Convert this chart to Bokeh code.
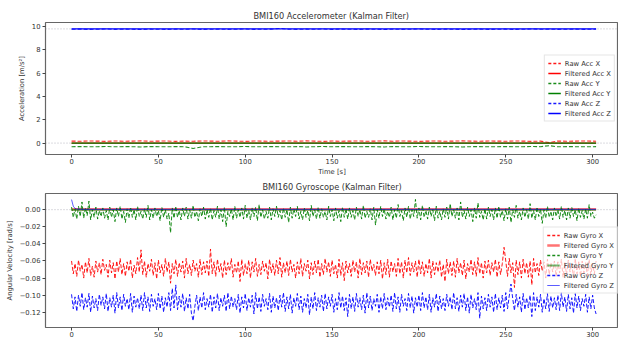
from bokeh.plotting import figure
from bokeh.layouts import column
from bokeh.models import (Span, Legend, LegendItem, CustomJSTickFormatter,
                          FixedTicker, Range1d)
from bokeh.embed import file_html
from bokeh.resources import INLINE

FONT = "DejaVu Sans"
TXT = "#333333"

# ---------------- data ----------------
x_ticks = [0, 50, 100, 150, 200, 250, 300]
acc_ticks = [0, 2, 4, 6, 8, 10]
gyro_ticks = [-0.12, -0.10, -0.08, -0.06, -0.04, -0.02, 0.0]

acc_time = [0, 5, 10, 15, 20, 25, 30, 35, 40, 45, 50, 55, 60, 65, 70, 75, 80, 85, 90, 95,
            100, 105, 110, 115, 120, 125, 130, 135, 140, 145, 150, 155, 160, 165, 170, 175,
            180, 185, 190, 195, 200, 205, 210, 215, 220, 225, 230, 235, 240, 245, 250, 255,
            260, 265, 270, 275, 280, 285, 290, 295, 300, 302]
raw_acc_x = [0.17, 0.16, 0.18, 0.17, 0.15, 0.18, 0.16, 0.17, 0.19, 0.16,
             0.17, 0.18, 0.15, 0.17, 0.16, 0.18, 0.17, 0.16, 0.19, 0.17,
             0.15, 0.18, 0.17, 0.16, 0.17, 0.18, 0.16, 0.19, 0.17, 0.15,
             0.18, 0.16, 0.17, 0.18, 0.16, 0.17, 0.19, 0.16, 0.18, 0.17,
             0.15, 0.17, 0.18, 0.16, 0.17, 0.19, 0.17, 0.16, 0.18, 0.17,
             0.16, 0.18, 0.17, 0.15, 0.17, 0.04, 0.18, 0.16, 0.17, 0.18,
             0.17, 0.16]
raw_acc_y = [-0.31, -0.30, -0.32, -0.31, -0.29, -0.32, -0.30, -0.31, -0.33, -0.30,
             -0.31, -0.32, -0.30, -0.31, -0.46, -0.32, -0.31, -0.30, -0.32, -0.31,
             -0.29, -0.32, -0.31, -0.30, -0.31, -0.32, -0.30, -0.33, -0.31, -0.29,
             -0.32, -0.30, -0.31, -0.32, -0.30, -0.31, -0.33, -0.30, -0.32, -0.31,
             -0.29, -0.31, -0.32, -0.30, -0.31, -0.33, -0.31, -0.30, -0.32, -0.31,
             -0.30, -0.32, -0.31, -0.29, -0.31, -0.22, -0.32, -0.30, -0.31, -0.32,
             -0.31, -0.30]
raw_acc_z = [9.78, 9.79, 9.77, 9.78, 9.80, 9.77, 9.79, 9.78, 9.76, 9.79,
             9.78, 9.77, 9.79, 9.78, 9.80, 9.77, 9.78, 9.79, 9.77, 9.78,
             9.80, 9.77, 9.78, 9.79, 9.85, 9.78, 9.77, 9.79, 9.78, 9.80,
             9.77, 9.79, 9.78, 9.77, 9.79, 9.78, 9.76, 9.79, 9.77, 9.78,
             9.80, 9.78, 9.77, 9.79, 9.78, 9.76, 9.78, 9.79, 9.77, 9.78,
             9.79, 9.77, 9.78, 9.80, 9.78, 9.79, 9.77, 9.78, 9.79, 9.77,
             9.78, 9.79]
filt_acc_time = [0, 302]
filt_acc_x = [0.0, 0.0]
filt_acc_y = [0.0, 0.0]
filt_acc_z = [9.81, 9.81]

# gyroscope raw values, mrad/s, one per second (0..302 s)
raw_gyro_x_mrad = [
    -60, -75, -63, -78, -59, -72, -64, -80, -61, -74, -57, -77, -66, -79, -60, -73, -62, -76, -58, -71,
    -64, -79, -59, -74, -62, -81, -60, -73, -57, -76, -63, -78, -61, -72, -58, -80, -65, -75, -56, -73,
    -47, -76, -60, -79, -63, -72, -58, -77, -62, -81, -59, -74, -64, -78, -57, -73, -61, -86, -63, -75,
    -58, -78, -62, -73, -60, -80, -57, -75, -64, -77, -59, -72, -63, -79, -58, -76, -61, -74, -60, -78,
    -46, -75, -61, -78, -58, -73, -63, -80, -59, -76, -62, -72, -57, -79, -64, -74, -60, -84, -58, -77,
    -63, -75, -59, -80, -61, -73, -57, -78, -64, -76, -60, -72, -62, -81, -58, -74, -63, -77, -59, -75,
    -56, -79, -62, -74, -60, -77, -58, -73, -64, -80, -61, -75, -57, -78, -63, -72, -59, -81, -62, -76,
    -60, -74, -58, -79, -63, -76, -57, -73, -61, -78, -59, -75, -64, -80, -58, -77, -62, -83, -60, -74,
    -63, -78, -59, -73, -61, -80, -57, -76, -62, -74, -60, -79, -58, -72, -64, -77, -61, -75, -59, -81,
    -62, -76, -58, -79, -60, -73, -63, -78, -57, -75, -61, -80, -59, -74, -56, -77, -62, -73, -60, -79,
    -58, -75, -61, -78, -63, -74, -57, -80, -60, -76, -62, -73, -59, -79, -64, -84, -58, -75, -61, -77,
    -60, -79, -57, -74, -62, -77, -59, -81, -63, -73, -58, -76, -61, -78, -56, -75, -62, -80, -60, -74,
    -59, -77, -62, -73, -58, -79, -61, -76, -63, -44, -60, -78, -57, -74, -62, -91, -59, -76, -61, -80,
    -58, -75, -62, -79, -60, -88, -57, -74, -63, -77, -59, -72, -61, -80, -58, -76, -62, -73, -60, -78,
    -61, -74, -58, -79, -62, -76, -59, -73, -63, -80, -57, -75, -61, -78, -60, -74, -62, -77, -58, -76,
    -63, -75, -60]
raw_gyro_y_mrad = [
    3, -9, 1, -11, 4, -8, 9, -10, 2, -7, 10, -12, 0, -9, 3, -11, -1, -8, 2, -10,
    -1, -12, 3, -9, 0, -14, 2, -8, 4, -11, -2, -15, 1, -10, 3, -9, 0, -12, 4, -8,
    -2, -11, 1, -9, 5, -12, 0, -10, 2, -8, -1, -13, 3, -9, 0, -11, -4, -27, 2, -10,
    4, -9, -1, -12, 2, -8, 3, -11, 0, -10, 5, -9, -2, -13, 1, -8, 3, -11, 0, -9,
    2, -12, -1, -9, 4, -11, 0, -14, 3, -20, -2, -8, 1, -12, 4, -10, 0, -9, 2, -11,
    5, -10, -1, -12, 2, -8, 3, -13, 6, -9, 0, -11, -2, -10, 3, -12, 1, -8, 4, -9,
    -1, -12, 2, -9, 0, -15, 3, -10, 1, -8, 4, -11, -2, -12, 2, -9, -1, -13, 5, -8,
    0, -11, 3, -10, 1, -9, -2, -12, 4, -8, 0, -13, 2, -10, -1, -14, 3, -9, 1, -11,
    2, -9, -1, -12, 3, -8, 0, -11, 5, -10, -2, -9, 1, -12, 3, -18, 0, -10, 4, -8,
    1, -11, -2, -9, 3, -12, 0, -10, 6, -8, -1, -13, 2, -9, 4, -11, 0, -8, 12, -10,
    2, -12, 5, -9, -1, -11, 3, -8, 0, -13, 4, -10, -2, -12, 1, -9, 3, -11, 7, -8,
    0, -10, 2, -12, 9, -9, -1, -11, 3, -8, 0, -14, 2, -10, 8, -9, -2, -12, 1, -11,
    3, -8, 0, -12, 2, -10, 4, -9, -1, -13, 1, -11, 3, -15, 0, -9, 5, -10, -2, -12,
    2, -9, 0, -11, 7, -10, -1, -12, 3, -8, 1, -16, 0, -10, 4, -9, -2, -12, 2, -8,
    0, -11, 4, -9, -1, -12, 2, -10, 3, -8, 0, -13, 2, -9, -1, -11, 1, -10, 6, -8,
    -3, -10, -6]
raw_gyro_z_mrad = [
    -99, -116, -102, -119, -100, -113, -97, -117, -103, -114, -98, -120, -101, -115, -104, -118, -99, -112, -102, -116,
    -98, -119, -103, -114, -100, -121, -97, -115, -102, -118, -99, -113, -104, -117, -98, -120, -101, -114, -103, -116,
    -100, -118, -97, -115, -102, -119, -99, -113, -104, -117, -98, -116, -101, -120, -103, -114, -97, -118, -92, -115,
    -88, -117, -101, -114, -98, -119, -103, -116, -99, -121, -130, -113, -100, -118, -102, -115, -97, -117, -104, -114,
    -99, -120, -102, -115, -98, -118, -103, -113, -100, -119, -97, -116, -101, -114, -104, -117, -99, -121, -102, -115,
    -98, -118, -103, -114, -100, -122, -97, -116, -102, -119, -99, -113, -104, -117, -98, -120, -101, -115, -103, -118,
    -100, -114, -97, -119, -102, -116, -99, -121, -103, -113, -98, -117, -101, -120, -104, -115, -99, -123, -102, -116,
    -97, -118, -103, -114, -100, -119, -98, -116, -102, -113, -99, -120, -104, -117, -97, -115, -101, -118, -103, -125,
    -99, -116, -102, -119, -98, -114, -103, -117, -100, -121, -97, -115, -101, -118, -104, -113, -99, -120, -102, -116,
    -98, -117, -103, -114, -100, -119, -97, -116, -102, -120, -99, -113, -104, -118, -98, -115, -101, -121, -103, -114,
    -100, -118, -97, -115, -102, -117, -99, -120, -103, -114, -98, -119, -101, -116, -104, -118, -99, -113, -102, -117,
    -97, -116, -103, -119, -100, -114, -98, -118, -102, -121, -99, -115, -104, -117, -97, -127, -101, -116, -103, -118,
    -99, -114, -102, -120, -98, -117, -103, -115, -100, -119, -97, -116, -101, -87, -104, -118, -99, -114, -102, -120,
    -98, -117, -103, -115, -100, -125, -97, -118, -102, -114, -99, -120, -104, -116, -98, -119, -101, -115, -103, -117,
    -100, -118, -97, -114, -102, -119, -99, -116, -103, -121, -98, -115, -101, -118, -104, -113, -99, -120, -102, -116,
    -100, -115, -122]
filt_gyro_time = [0, 1, 2, 3, 5, 8, 302]
filt_gyro_x_mrad = [0.0, 0.4, 0.5, 0.5, 0.5, 0.5, 0.5]
filt_gyro_y_mrad = [0.0, -0.2, -0.3, -0.3, -0.3, -0.3, -0.3]
filt_gyro_z_mrad = [11.8, 4.0, 1.5, 0.8, 0.5, 0.4, 0.4]


def to_rad(vals):
    return [v / 1000.0 for v in vals]


def times(vals):
    return list(range(len(vals)))


# ---------------- styling helpers ----------------
def style(p, title_offset):
    p.title.text_font = FONT
    p.title.text_font_size = "8.2px"
    p.title.text_font_style = "normal"
    p.title.text_color = TXT
    p.title.align = "left"
    p.title.offset = title_offset
    p.title.standoff = 3
    p.outline_line_color = "#666666"
    p.outline_line_width = 1.2
    p.xgrid.visible = False
    p.ygrid.visible = False
    p.background_fill_color = "white"
    p.border_fill_color = "white"
    for ax in (p.xaxis[0], p.yaxis[0]):
        ax.axis_line_color = None
        ax.major_tick_line_color = "#444444"
        ax.major_tick_out = 3
        ax.major_tick_in = 0
        ax.minor_tick_line_color = None
        ax.major_label_text_font = FONT
        ax.major_label_text_font_size = "6.8px"
        ax.major_label_text_color = TXT
        ax.axis_label_text_font = FONT
        ax.axis_label_text_font_size = "6.8px"
        ax.axis_label_text_font_style = "normal"
        ax.axis_label_text_color = TXT
    p.xaxis[0].major_label_standoff = 1
    p.xaxis[0].axis_label_standoff = 1
    p.yaxis[0].major_label_standoff = 2
    p.yaxis[0].axis_label_standoff = 3
    p.xaxis[0].ticker = FixedTicker(ticks=x_ticks)


def proxy(p, color, dash, width, alpha):
    # one-point renderer (draws no segment) used only for a clean legend swatch
    return p.line([0], [0], line_color=color, line_dash=dash, line_width=width, line_alpha=alpha)


def make_legend(p, items, alpha, margin):
    lg = Legend(items=items, location="center_right")
    lg.label_text_font = FONT
    lg.label_text_font_size = "6.8px"
    lg.label_text_color = TXT
    lg.glyph_width = 13
    lg.glyph_height = 9
    lg.label_height = 9
    lg.label_standoff = 4
    lg.spacing = 1
    lg.padding = 3
    lg.margin = margin
    lg.border_line_color = "#cccccc"
    lg.border_line_width = 1
    lg.background_fill_color = "white"
    lg.background_fill_alpha = alpha
    p.add_layout(lg)


X_RANGE = (-15.0, 314.9)

# ---------------- accelerometer ----------------
p1 = figure(width=618, height=178, output_backend="svg", toolbar_location=None,
            title="BMI160 Accelerometer (Kalman Filter)",
            x_range=Range1d(*X_RANGE), y_range=Range1d(-0.98, 10.36),
            min_border_left=45, min_border_right=0, min_border_top=22, min_border_bottom=21)
style(p1, 208)
p1.xaxis[0].axis_label = "Time [s]"
p1.yaxis[0].axis_label = "Acceleration [m/s²]"
p1.yaxis[0].ticker = FixedTicker(ticks=acc_ticks)

for loc in (9.81, 0.0):
    p1.add_layout(Span(location=loc, dimension="width", line_color="#9a9aa6",
                       line_dash="1 2", line_width=1, line_alpha=0.7, level="underlay"))

p1.line(acc_time, raw_acc_x, line_color="red", line_dash="4 2", line_width=1.1, line_alpha=0.85)
a2 = p1.line(filt_acc_time, filt_acc_x, line_color="red", line_width=1.3)
p1.line(acc_time, raw_acc_y, line_color="green", line_dash="4 2", line_width=1.1, line_alpha=0.85)
a4 = p1.line(filt_acc_time, filt_acc_y, line_color="green", line_width=1.3)
p1.line(acc_time, raw_acc_z, line_color="blue", line_dash="4 2", line_width=1.1, line_alpha=0.85)
a6 = p1.line(filt_acc_time, filt_acc_z, line_color="blue", line_width=1.3)

make_legend(p1, [
    LegendItem(label="Raw Acc X", renderers=[proxy(p1, "red", "3 2", 1.4, 0.9)]),
    LegendItem(label="Filtered Acc X", renderers=[a2]),
    LegendItem(label="Raw Acc Y", renderers=[proxy(p1, "green", "3 2", 1.4, 0.9)]),
    LegendItem(label="Filtered Acc Y", renderers=[a4]),
    LegendItem(label="Raw Acc Z", renderers=[proxy(p1, "blue", "3 2", 1.4, 0.9)]),
    LegendItem(label="Filtered Acc Z", renderers=[a6]),
], 0.85, 3)

# ---------------- gyroscope ----------------
p2 = figure(width=618, height=161, output_backend="svg", toolbar_location=None,
            title="BMI160 Gyroscope (Kalman Filter)",
            x_range=Range1d(*X_RANGE), y_range=Range1d(-0.1378, 0.0189),
            min_border_left=45, min_border_right=0, min_border_top=14, min_border_bottom=12)
style(p2, 217)
p2.yaxis[0].axis_label = "Angular Velocity [rad/s]"
p2.yaxis[0].ticker = FixedTicker(ticks=gyro_ticks)
p2.yaxis[0].formatter = CustomJSTickFormatter(code="""
    const s = Math.abs(tick).toFixed(2);
    return (tick < -1e-9 ? '\\u2212' : '') + s;
""")

p2.add_layout(Span(location=0.0, dimension="width", line_color="#9a9aa6",
                   line_dash="1 2", line_width=1, line_alpha=0.7, level="underlay"))

p2.line(times(raw_gyro_x_mrad), to_rad(raw_gyro_x_mrad), line_color="red",
        line_dash="4 2", line_width=1, line_alpha=0.9)
g2 = p2.line(filt_gyro_time, to_rad(filt_gyro_x_mrad), line_color="red",
             line_width=2.5, line_alpha=0.55)
p2.line(times(raw_gyro_y_mrad), to_rad(raw_gyro_y_mrad), line_color="green",
        line_dash="4 2", line_width=1, line_alpha=0.9)
g4 = p2.line(filt_gyro_time, to_rad(filt_gyro_y_mrad), line_color="green",
             line_width=1.8, line_alpha=0.55)
p2.line(times(raw_gyro_z_mrad), to_rad(raw_gyro_z_mrad), line_color="blue",
        line_dash="4 2", line_width=1, line_alpha=0.9)
g6 = p2.line(filt_gyro_time, to_rad(filt_gyro_z_mrad), line_color="blue",
             line_width=0.8, line_alpha=0.8)

make_legend(p2, [
    LegendItem(label="Raw Gyro X", renderers=[proxy(p2, "red", "3 2", 1.4, 0.9)]),
    LegendItem(label="Filtered Gyro X", renderers=[g2]),
    LegendItem(label="Raw Gyro Y", renderers=[proxy(p2, "green", "3 2", 1.4, 0.9)]),
    LegendItem(label="Filtered Gyro Y", renderers=[g4]),
    LegendItem(label="Raw Gyro Z", renderers=[proxy(p2, "blue", "3 2", 1.4, 0.9)]),
    LegendItem(label="Filtered Gyro Z", renderers=[g6]),
], 0.7, 0)

layout = column(p1, p2, spacing=0)
open("out.html", "w").write(file_html(layout, INLINE))
